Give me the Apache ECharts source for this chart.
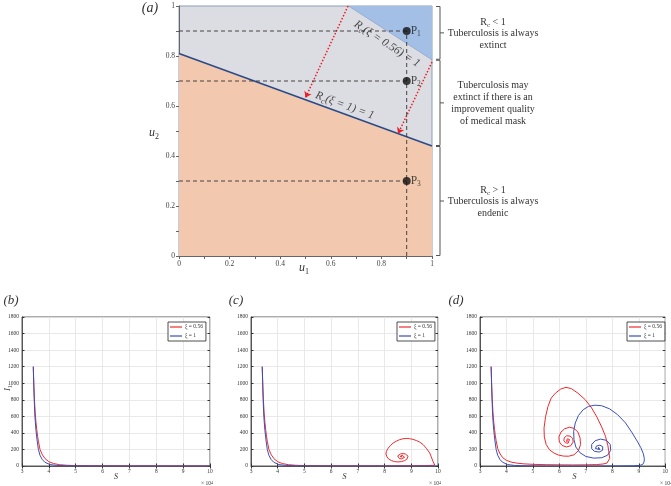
<!DOCTYPE html>
<html><head><meta charset="utf-8">
<script src="https://cdn.jsdelivr.net/npm/echarts@6/dist/echarts.min.js"></script>
<style>html,body{margin:0;padding:0;background:#fff}#c{width:671px;height:486px}</style>
</head><body><div id="c"></div>
<script>
// ---------- Panel (a) data ----------
const lineXi1 = [[0, 0.81], [1, 0.44]];          // Rc(ξ=1)=1
const lineXi056 = [[0.67, 1], [1, 0.785]];       // Rc(ξ=0.56)=1
const pointsP = [[0.9, 0.9], [0.9, 0.7], [0.9, 0.3]];
const pointSubs = ['1', '2', '3'];
const arrowCoords = [[[0.668, 1.0], [0.50, 0.633]], [[1.0, 0.776], [0.866, 0.489]]];
const labelXi1Pos = [0.655, 0.602];
const labelXi056Pos = [0.822, 0.848];
const bracketRanges = [[1, 0.785], [0.785, 0.44], [0.44, 0]];

// ---------- Bottom panels data (S in 10^4, I1) ----------
const redDecay = [[3.42,1200],[3.44,1000],[3.46,820],[3.49,650],[3.52,530],[3.55,440],[3.58,360],[3.61,300],[3.67,200],[3.76,135],[3.86,88],[4.0,52],[4.17,30],[4.4,16],[4.66,9],[5.0,5],[5.5,3],[6.0,2]];
const blueDecay = [[3.42,1200],[3.44,950],[3.46,760],[3.48,600],[3.52,430],[3.57,290],[3.61,200],[3.67,130],[3.75,80],[3.85,46],[4.04,17],[4.3,7],[4.7,3],[5.2,1],[6.0,0.5]];
const bRedTail = [[7,1],[8,0.5],[10,0]];
const blueTailFree = [[10,0]];
const cRedTail = [[7,1.5],[8,2],[9,3],[9.5,5],[9.8,8],[9.88,12],[9.85,30],[9.81,57],[9.75,110],[9.69,158],[9.56,215],[9.44,260],[9.31,290],[9.19,308],[9.06,322],[8.94,330],[8.81,333],[8.69,329],[8.56,318],[8.44,300],[8.32,277],[8.22,247],[8.13,213],[8.07,178],[8.05,145],[8.09,110],[8.16,82],[8.26,65],[8.38,53],[8.5,49],[8.63,53],[8.75,65],[8.83,80],[8.88,97],[8.88,118],[8.85,134],[8.78,145],[8.69,150],[8.6,146],[8.54,138],[8.49,122],[8.5,105],[8.55,92],[8.63,85],[8.7,90],[8.75,105],[8.74,120],[8.71,128],[8.66,130],[8.6,125],[8.58,115],[8.61,107],[8.66,108],[8.68,115],[8.65,120],[8.62,117]];
const dRedDecay = [[3.42,1200],[3.44,1000],[3.46,820],[3.49,650],[3.52,530],[3.55,440],[3.58,365],[3.61,305],[3.67,210],[3.76,145],[3.86,100],[4.0,68],[4.17,48],[4.4,34],[4.66,26],[5.0,20],[5.5,16],[6.0,14],[6.5,13],[7.0,14],[7.4,17],[7.65,24],[7.8,36],[7.87,55]];
const dRedLoop = [[7.9,90],[7.88,150],[7.83,250],[7.74,360],[7.6,470],[7.42,590],[7.22,700],[6.98,800],[6.7,880],[6.45,935],[6.25,950],[6.05,930],[5.85,880],[5.69,820],[5.57,720],[5.48,600],[5.42,460],[5.43,350],[5.5,260],[5.63,195],[5.8,155],[5.97,132],[6.15,120],[6.35,118],[6.55,135],[6.72,185],[6.8,260],[6.78,340],[6.7,410],[6.55,455],[6.38,468],[6.2,450],[6.06,410],[5.98,350],[6.0,290],[6.1,248],[6.27,230],[6.43,245],[6.52,290],[6.5,335],[6.4,362],[6.27,365],[6.18,340],[6.17,305],[6.23,280],[6.33,275],[6.4,295],[6.38,320],[6.3,328],[6.25,312],[6.27,297],[6.32,295],[6.33,305],[6.3,302]];
const dBlueTail = [[7,0.5],[8,1],[8.8,3],[9.05,8],[9.15,20]];
const dBlueLoop = [[9.2,50],[9.21,90],[9.17,150],[9.08,220],[8.94,300],[8.75,400],[8.5,520],[8.2,620],[7.9,690],[7.6,728],[7.35,735],[7.1,720],[6.9,680],[6.72,610],[6.6,520],[6.54,420],[6.55,320],[6.62,230],[6.78,160],[7.0,115],[7.3,95],[7.6,100],[7.82,130],[7.94,190],[7.92,260],[7.78,310],[7.55,325],[7.35,305],[7.22,260],[7.22,210],[7.32,178],[7.5,168],[7.63,190],[7.64,232],[7.53,252],[7.4,240],[7.36,212],[7.43,193],[7.53,198],[7.55,218],[7.48,226],[7.44,212],[7.48,205],[7.5,210]];
const sTicks = [3,4,5,6,7,8,9,10];
const iTicks = [0,200,400,600,800,1000,1200,1400,1600,1800];
const seriesNames = ['ξ = 0.56', 'ξ = 1'];

// ---------- build ----------
const SERIF = '"Liberation Serif","DejaVu Serif",serif';
const RED = '#ee2a2e', BLUE = '#3a4fb8';
const chart = echarts.init(document.getElementById('c'), null, {renderer: 'canvas'});

const panels = [
  {left: 22, width: 188, red: redDecay.concat(bRedTail), blue: blueDecay.concat(blueTailFree), legendLeft: 168},
  {left: 251, width: 187, red: redDecay.concat(cRedTail), blue: blueDecay.concat(blueTailFree), legendLeft: 397},
  {left: 480, width: 189, red: dRedDecay.concat(dRedLoop), blue: blueDecay.concat(dBlueTail, dBlueLoop), legendLeft: 627}
];

const grids = [{left: 179, top: 6, width: 253, height: 250, show: true, backgroundColor: '#dcdde2', borderColor: '#8b9cb8', borderWidth: 1}];
panels.forEach(p => grids.push({left: p.left, top: 317, width: p.width, height: 149, show: true, backgroundColor: '#fff', borderColor: '#333', borderWidth: 0.8}));

const uFmt = v => { const k = Math.round(v * 10); return k % 2 === 0 ? (k === 0 ? '0' : k === 10 ? '1' : (k / 10).toFixed(1)) : ''; };
const plainFmt = v => String(Math.round(v));
const xAxes = [{gridIndex: 0, type: 'value', min: 0, max: 1, interval: 0.1,
  axisLine: {lineStyle: {color: '#666', width: 1}}, axisTick: {inside: false, length: 3, lineStyle: {color: '#666'}},
  axisLabel: {formatter: uFmt, fontSize: 7.5, fontFamily: SERIF, color: '#444', margin: 4}, splitLine: {show: false}}];
const yAxes = [{gridIndex: 0, type: 'value', min: 0, max: 1, interval: 0.1,
  axisLine: {lineStyle: {color: '#666', width: 1}}, axisTick: {inside: false, length: 3, lineStyle: {color: '#666'}},
  axisLabel: {formatter: uFmt, fontSize: 7.5, fontFamily: SERIF, color: '#444', margin: 4}, splitLine: {show: false}}];
panels.forEach((p, i) => {
  xAxes.push({gridIndex: i + 1, type: 'value', min: sTicks[0], max: sTicks[sTicks.length - 1], interval: 1,
    axisLine: {lineStyle: {color: '#333', width: 0.8}}, axisTick: {inside: true, length: 2.5, lineStyle: {color: '#333'}},
    axisLabel: {fontSize: 5.5, fontFamily: SERIF, color: '#333', margin: 3, formatter: plainFmt},
    splitLine: {show: true, lineStyle: {color: '#e3e3e3', width: 0.8}}});
  yAxes.push({gridIndex: i + 1, type: 'value', min: iTicks[0], max: iTicks[iTicks.length - 1], interval: 200,
    axisLine: {lineStyle: {color: '#333', width: 0.8}}, axisTick: {inside: true, length: 2.5, lineStyle: {color: '#333'}},
    axisLabel: {fontSize: 5.5, fontFamily: SERIF, color: '#333', margin: 3, formatter: plainFmt},
    splitLine: {show: true, lineStyle: {color: '#e3e3e3', width: 0.8}}});
});
panels.forEach((p, i) => {
  xAxes.push({gridIndex: i + 1, type: 'value', position: 'top', min: 3, max: 10, interval: 1,
    axisLine: {show: false}, axisTick: {inside: true, length: 2.5, lineStyle: {color: '#333'}}, axisLabel: {show: false}, splitLine: {show: false}});
  yAxes.push({gridIndex: i + 1, type: 'value', position: 'right', min: 0, max: 1800, interval: 200,
    axisLine: {show: false}, axisTick: {inside: true, length: 2.5, lineStyle: {color: '#333'}}, axisLabel: {show: false}, splitLine: {show: false}});
});

const series = [];
series.push({type: 'line', xAxisIndex: 0, yAxisIndex: 0, data: lineXi1, symbol: 'none', z: 2,
  lineStyle: {color: '#2b4a88', width: 1.6}, areaStyle: {color: '#f2c9ae', opacity: 1, origin: 'start'}});
series.push({type: 'line', xAxisIndex: 0, yAxisIndex: 0, data: lineXi056, symbol: 'none', z: 2,
  lineStyle: {color: '#8fa6cc', width: 0.8}, areaStyle: {color: '#a3bfe6', opacity: 1, origin: 'end'}});
pointsP.forEach(pt => {
  series.push({type: 'line', xAxisIndex: 0, yAxisIndex: 0, data: [[0, pt[1]], pt], symbol: 'none', z: 3,
    lineStyle: {color: '#333', width: 0.9, type: [4, 3]}});
});
series.push({type: 'line', xAxisIndex: 0, yAxisIndex: 0, data: [[pointsP[0][0], 0], pointsP[0]], symbol: 'none', z: 3,
  lineStyle: {color: '#333', width: 0.9, type: [4, 3]}});
series.push({type: 'lines', coordinateSystem: 'cartesian2d', xAxisIndex: 0, yAxisIndex: 0, z: 3,
  data: arrowCoords.map(c => ({coords: c})), symbol: ['none', 'arrow'], symbolSize: 6,
  lineStyle: {color: '#ea1f27', width: 1.5, type: [1.5, 1.8], opacity: 1}});
series.push({type: 'scatter', xAxisIndex: 0, yAxisIndex: 0, z: 8, symbolSize: 8, itemStyle: {color: '#111'},
  data: pointsP,
  label: {show: true, position: 'right', distance: 0, color: '#222',
    formatter: p => '{p|P}{s|' + pointSubs[p.dataIndex] + '}',
    rich: {p: {fontSize: 11.5, fontFamily: SERIF, lineHeight: 15, color: '#222'}, s: {fontSize: 7.5, fontFamily: SERIF, lineHeight: 7, verticalAlign: 'bottom', color: '#222'}}},
  labelLayout: {hideOverlap: false}});
const rcRich = {r: {fontSize: 11.5, fontFamily: SERIF, fontStyle: 'italic', lineHeight: 15, color: '#222'}, s: {fontSize: 8, fontFamily: SERIF, fontStyle: 'italic', lineHeight: 7, verticalAlign: 'bottom', color: '#222'}};
series.push({type: 'scatter', xAxisIndex: 0, yAxisIndex: 0, z: 5, symbolSize: 1, itemStyle: {color: 'rgba(0,0,0,0)'},
  data: [{value: labelXi1Pos, label: {rotate: -20, formatter: '{r|R}{s|c}{r|(ξ = 1) = 1}'}},
         {value: labelXi056Pos, label: {rotate: -33, formatter: '{r|R}{s|c}{r|(ξ = 0.56) = 1}'}}],
  label: {show: true, position: 'inside', rich: rcRich}});
series.push({type: 'custom', coordinateSystem: 'cartesian2d', xAxisIndex: 0, yAxisIndex: 0, clip: false, z: 5,
  data: bracketRanges,
  renderItem: (params, api) => {
    const y1 = api.coord([1, api.value(0)])[1], y2 = api.coord([1, api.value(1)])[1];
    const x = api.coord([1, 0])[0] + 8, ym = (y1 + y2) / 2;
    return {type: 'group', children: [
      {type: 'polyline', shape: {points: [[x - 4, y1 + 0.5], [x, y1 + 0.5], [x, y2 - 0.5], [x - 4, y2 - 0.5]]}, style: {stroke: '#555', fill: null, lineWidth: 1}},
      {type: 'line', shape: {x1: x, y1: ym, x2: x + 4, y2: ym}, style: {stroke: '#555', lineWidth: 1}}
    ]};
  }});
panels.forEach((p, i) => {
  series.push({type: 'line', name: seriesNames[0], xAxisIndex: i + 1, yAxisIndex: i + 1, data: p.red, symbol: 'none', z: 3,
    lineStyle: {color: RED, width: 1}, itemStyle: {color: RED}});
  series.push({type: 'line', name: seriesNames[1], xAxisIndex: i + 1, yAxisIndex: i + 1, data: p.blue, symbol: 'none', z: 3,
    lineStyle: {color: BLUE, width: 1}, itemStyle: {color: BLUE}});
});

const legends = panels.map(p => ({data: seriesNames, left: p.legendLeft, top: 322, orient: 'vertical', icon: 'rect',
  itemWidth: 12, itemHeight: 1.2, itemGap: 3, padding: [2, 3, 2, 2], borderColor: '#222', borderWidth: 0.8, borderRadius: 0,
  backgroundColor: '#fff', selectedMode: false, textStyle: {fontSize: 5.5, fontFamily: SERIF, color: '#333', padding: [0, 0, 0, -2]}}));

const subRich = (size) => ({n: {fontSize: size, fontFamily: SERIF, lineHeight: size + 3, fill: '#333'}, s: {fontSize: size * 0.7, fontFamily: SERIF, lineHeight: 7, verticalAlign: 'bottom', fill: '#333'}});
const T = (x, y, text, size, extra) => Object.assign({type: 'text', x: x, y: y, z: 10,
  style: Object.assign({text: text, fontSize: size, fontFamily: SERIF, fill: '#333', align: 'center', verticalAlign: 'middle'}, extra || {})});
const graphic = [
  T(150, 8, '(a)', 14, {fontStyle: 'italic'}),
  T(11, 301, '(b)', 13, {fontStyle: 'italic'}),
  T(236, 301, '(c)', 13, {fontStyle: 'italic'}),
  T(456, 301, '(d)', 13, {fontStyle: 'italic'}),
  T(304, 268, '{i|u}{s|1}', 12, {rich: {i: {fontSize: 12, fontFamily: SERIF, fontStyle: 'italic', lineHeight: 15, fill: '#333'}, s: {fontSize: 8, fontFamily: SERIF, lineHeight: 7, verticalAlign: 'bottom', fill: '#333'}}}),
  T(154, 133, '{i|u}{s|2}', 12, {rich: {i: {fontSize: 12, fontFamily: SERIF, fontStyle: 'italic', lineHeight: 15, fill: '#333'}, s: {fontSize: 8, fontFamily: SERIF, lineHeight: 7, verticalAlign: 'bottom', fill: '#333'}}}),
  T(493, 22, '{n|R}{s|c}{n| < 1}', 10, {rich: subRich(10)}),
  T(493, 33.5, 'Tuberculosis is always', 10),
  T(493, 45, 'extinct', 10),
  T(493, 85.5, 'Tuberculosis may', 10),
  T(493, 97.5, 'extinct if there is an', 10),
  T(493, 109.5, 'improvement quality', 10),
  T(493, 121, 'of medical mask', 10),
  T(493, 190, '{n|R}{s|c}{n| > 1}', 10, {rich: subRich(10)}),
  T(493, 201.5, 'Tuberculosis is always', 10),
  T(493, 213, 'endenic', 10),
  Object.assign(T(8, 388, '{i|I}{s|1}', 9, {rich: {i: {fontSize: 9, fontFamily: SERIF, fontStyle: 'italic', lineHeight: 11, fill: '#333'}, s: {fontSize: 6, fontFamily: SERIF, lineHeight: 5, verticalAlign: 'bottom', fill: '#333'}}}), {rotation: Math.PI / 2})
];
panels.forEach(p => {
  const cx = p.left + p.width / 2;
  graphic.push(T(cx, 477, 'S', 8, {fontStyle: 'italic'}));
  graphic.push(T(p.left + p.width - 3, 484, '{n|× 10}{u|4}', 5.5, {rich: {n: {fontSize: 5.5, fontFamily: SERIF, lineHeight: 7, fill: '#333'}, u: {fontSize: 4, fontFamily: SERIF, lineHeight: 4, verticalAlign: 'top', fill: '#333'}}}));
});

chart.setOption({animation: false, backgroundColor: '#fff', grid: grids, xAxis: xAxes, yAxis: yAxes, series: series, legend: legends, graphic: graphic});
</script></body></html>
